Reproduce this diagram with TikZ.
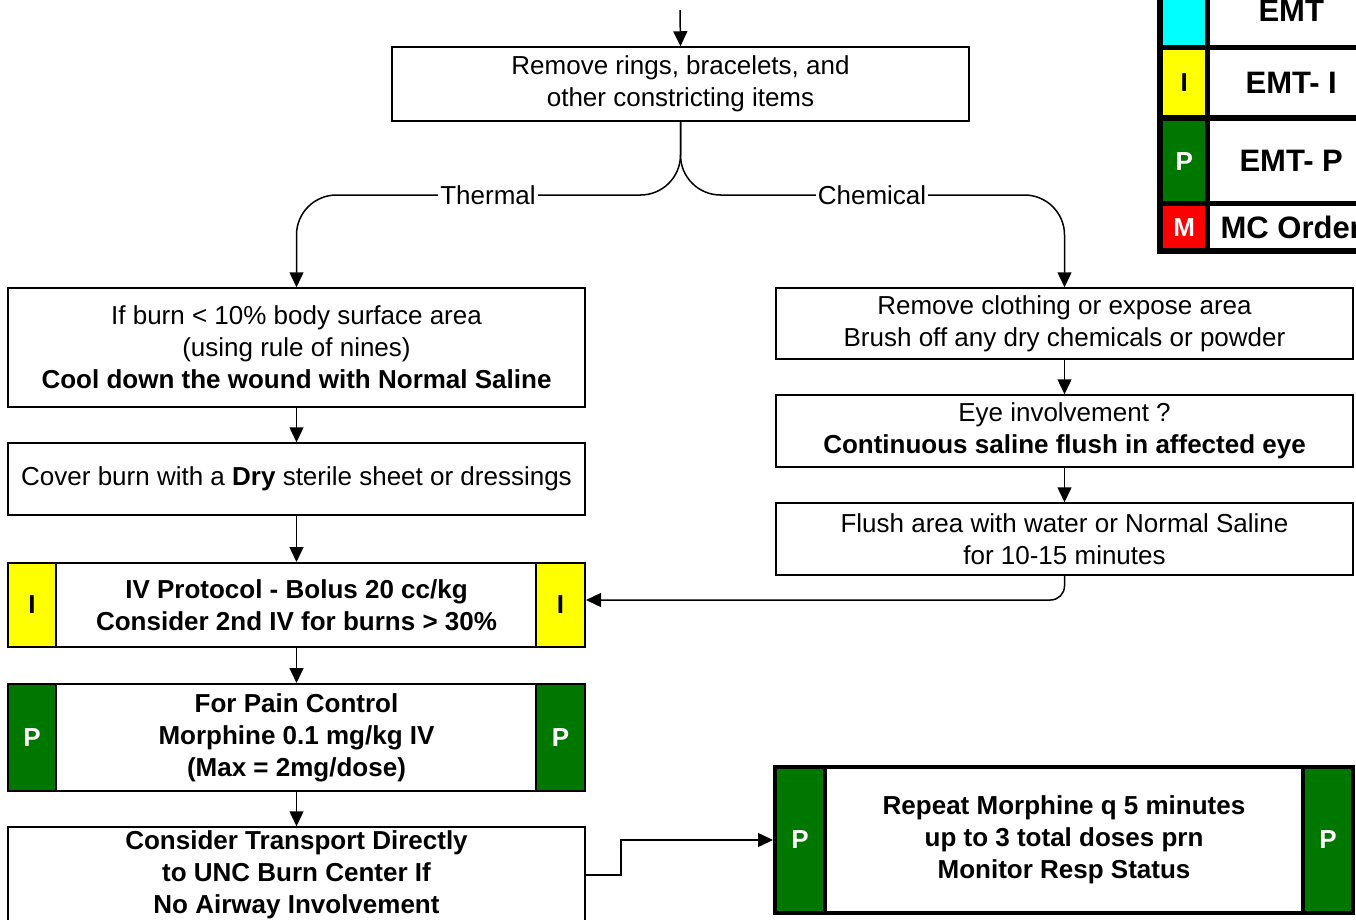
\documentclass[tikz,border=0pt]{standalone}
\usepackage{fontspec}
\setmainfont{Liberation Sans}
\usetikzlibrary{arrows.meta,calc}
\definecolor{pgreen}{RGB}{0,120,0}
\definecolor{iyellow}{RGB}{255,255,0}
\definecolor{ecyan}{RGB}{0,255,255}
\definecolor{mred}{RGB}{255,0,0}
\begin{document}
\begin{tikzpicture}[x=1pt,y=-1pt,
  txt/.style={font=\fontsize{26}{32}\selectfont},
  box/.style={draw, line width=1.5pt, fill=white, align=center, inner sep=0pt, txt},
  bbox/.style={box, line width=2pt, font=\fontsize{26}{32}\selectfont\bfseries},
  side/.style={draw, line width=2pt, inner sep=0pt, font=\fontsize{26}{32}\selectfont\bfseries},
  sideI/.style={side, fill=iyellow, text=black},
  sideP/.style={side, fill=pgreen, text=white},
  conn/.style={line width=1.5pt},
  arr/.style={conn, -{Triangle[length=15pt,width=14pt]}},
  lbl/.style={fill=white, inner sep=2pt, txt},
  legcell/.style={inner sep=0pt, anchor=north west, minimum width=42pt},
  legtext/.style={inner sep=0pt, anchor=north west, minimum width=162pt, fill=white, font=\fontsize{31}{36}\selectfont\bfseries},
  legletter/.style={font=\fontsize{26}{32}\selectfont\bfseries}
]
\useasboundingbox (0,0) rectangle (1356,920);
\clip (0,0) rectangle (1356,920);

% top box
\coordinate (entry) at (680,10);
\node[box, minimum width=577pt, minimum height=74pt] (top) at (680.5,84)
  {Remove rings, bracelets, and\\other constricting items};

% thermal branch
\node[box, minimum width=577pt, minimum height=119pt] (b1) at (296.5,347.5)
  {If burn < 10\% body surface area\\(using rule of nines)\\\textbf{Cool down the wound with Normal Saline}};
\node[box, minimum width=577pt, minimum height=72pt] (b2) at (296.5,479)
  {Cover burn with a \textbf{Dry} sterile sheet or dressings};
\node[bbox, minimum width=577pt, minimum height=84pt] (iv) at (296.5,605)
  {IV Protocol - Bolus 20 cc/kg\\Consider 2nd IV for burns > 30\%};
\node[sideI, minimum width=48pt, minimum height=84pt] (ivL) at (32,605) {I};
\node[sideI, minimum width=49pt, minimum height=84pt] (ivR) at (560.5,605) {I};
\node[bbox, minimum width=577pt, minimum height=107pt] (pain) at (296.5,737.5)
  {For Pain Control\\Morphine 0.1 mg/kg IV\\(Max = 2mg/dose)};
\node[sideP, minimum width=48pt, minimum height=107pt] (painL) at (32,737.5) {P};
\node[sideP, minimum width=49pt, minimum height=107pt] (painR) at (560.5,737.5) {P};
\node[bbox, line width=1.5pt, minimum width=577pt, minimum height=96pt] (b5) at (296.5,875)
  {Consider Transport Directly\\to UNC Burn Center If\\No Airway Involvement};

% chemical branch
\node[box, minimum width=577pt, minimum height=71pt] (cA) at (1064.5,323.5)
  {Remove clothing or expose area\\Brush off any dry chemicals or powder};
\node[box, minimum width=577pt, minimum height=72pt] (cB) at (1064.5,431)
  {Eye involvement ?\\\textbf{Continuous saline flush in affected eye}};
\node[box, minimum width=577pt, minimum height=72pt] (cC) at (1064.5,539)
  {Flush area with water or Normal Saline\\for 10-15 minutes};

% repeat morphine
\node[bbox, line width=4pt, minimum width=578pt, minimum height=146pt] (rm) at (1064,840)
  {Repeat Morphine q 5 minutes\\up to 3 total doses prn\\Monitor Resp Status};
\node[sideP, line width=4pt, minimum width=50pt, minimum height=146pt] (rmL) at (800,840) {P};
\node[sideP, line width=4pt, minimum width=50pt, minimum height=146pt] (rmR) at (1328,840) {P};

% connectors
\draw[arr] (entry) -- (top.north);
\draw[arr, rounded corners=40pt] (top.south) -- (680.5,195) -- (b1.north |- 0,195) -- (b1.north);
\draw[arr, rounded corners=40pt] (top.south) -- (680.5,195) -- (cA.north |- 0,195) -- (cA.north);
\node[lbl] (thermal) at (488,195) {Thermal};
\node[lbl] (chemical) at (872,195) {Chemical};
\draw[arr] (b1.south) -- (b2.north);
\draw[arr] (b2.south) -- (iv.north);
\draw[arr] (iv.south) -- (pain.north);
\draw[arr] (pain.south) -- (b5.north);
\draw[arr] (cA.south) -- (cB.north);
\draw[arr] (cB.south) -- (cC.north);
\draw[arr, rounded corners=14pt] (cC.south) |- ($(ivR.east)+(0,-5)$);
\draw[arr] (b5.east) -- ++(35,0) |- (rmL.west);

% legend
\node[fill=black, inner sep=0pt, anchor=north west, minimum width=240pt, minimum height=283pt] (leg) at (1157,-29) {};
\node[legcell, fill=ecyan, minimum height=68pt] (lc1) at (1163,-23) {};
\node[legtext, minimum height=68pt] (lt1) at (1210,-23) {EMT};
\node[legcell, fill=iyellow, minimum height=65pt] (lc2) at (1163,50) {};
\node[legletter] (ll2) at (lc2.center) {I};
\node[legtext, minimum height=65pt] (lt2) at (1210,50) {EMT- I};
\node[legcell, fill=pgreen, minimum height=80pt] (lc3) at (1163,121) {};
\node[legletter, text=white] (ll3) at (lc3.center) {P};
\node[legtext, minimum height=80pt] (lt3) at (1210,121) {EMT- P};
\node[legcell, fill=mred, minimum height=42pt] (lc4) at (1163,206) {};
\node[legletter, text=white] (ll4) at (lc4.center) {M};
\node[legtext, minimum height=42pt] (lt4) at (1210,206) {MC Order};
\end{tikzpicture}
\end{document}
